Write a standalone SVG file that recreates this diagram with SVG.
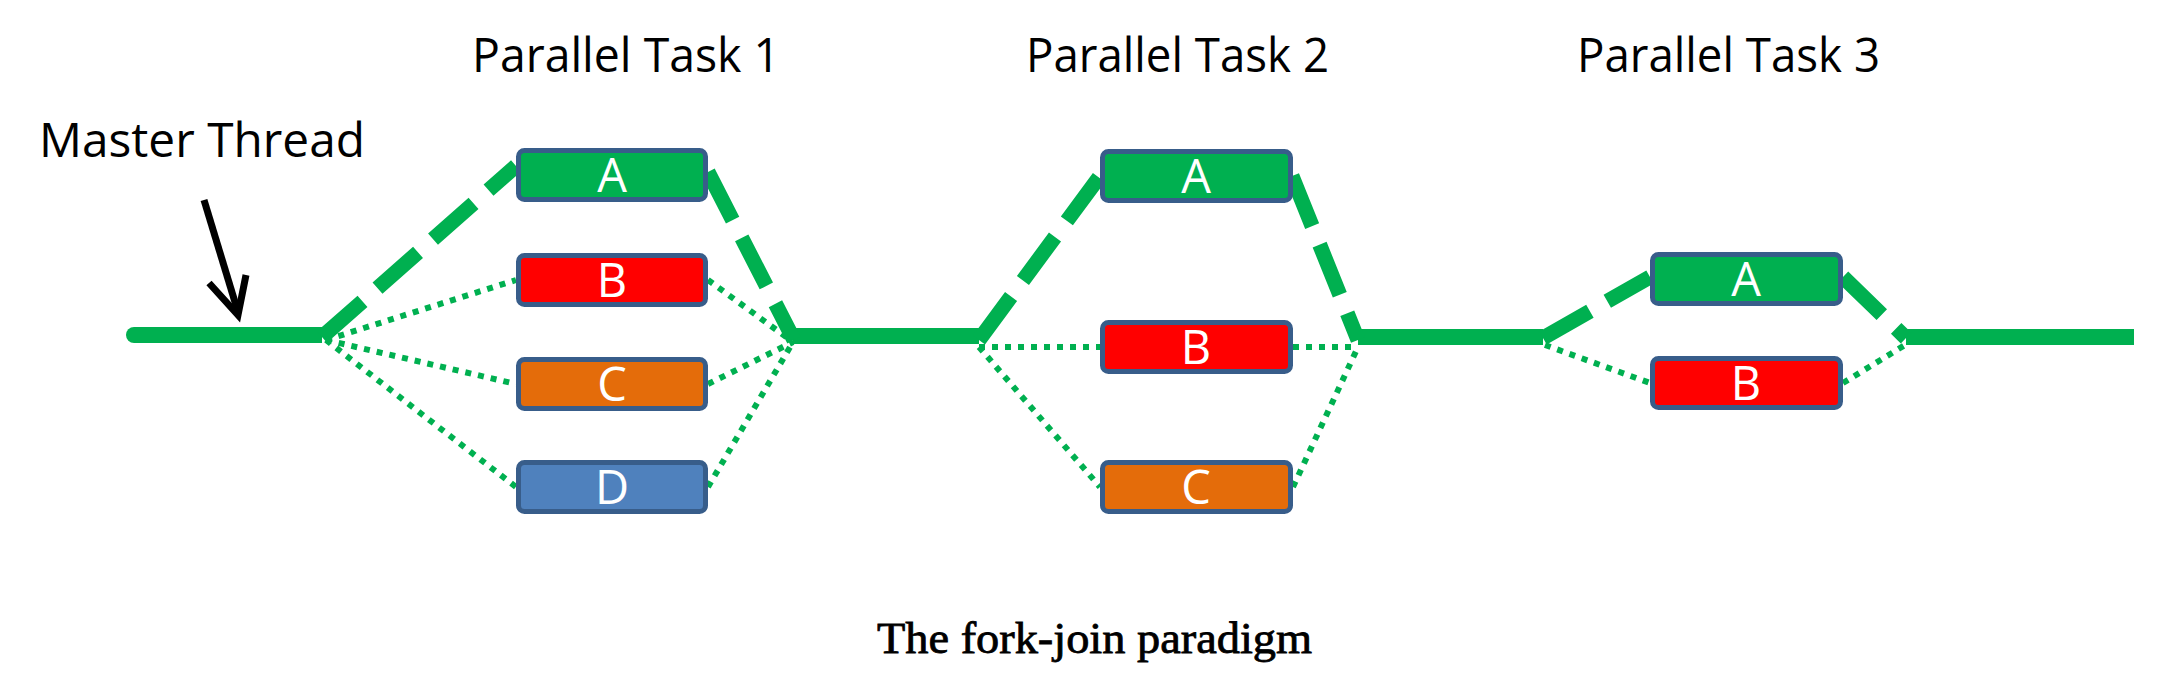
<svg xmlns="http://www.w3.org/2000/svg" width="2162" height="696" viewBox="0 0 2162 696">
<style>
.lbl{font-family:"Open Sans","Liberation Sans",sans-serif;fill:#000;font-size:47px}
.box rect{stroke:#385D8A;stroke-width:5}
.box text{font-family:"Open Sans","Liberation Sans",sans-serif;fill:#fff;font-size:47px;text-anchor:middle}
.main{stroke:#00B050;stroke-width:16;fill:none}
.dash{stroke:#00B050;stroke-width:15;fill:none;stroke-dasharray:54 20}
.dot{stroke:#00B050;stroke-width:6;fill:none;stroke-dasharray:6 7}
.g{fill:#00B050}.r{fill:#FF0000}.o{fill:#E46C0A}.b{fill:#4F81BD}
</style>
<rect width="2162" height="696" fill="#fff"/>
<g id="titles">
<text class="lbl" x="472" y="72" textLength="308" lengthAdjust="spacingAndGlyphs">Parallel Task 1</text>
<text class="lbl" x="1026" y="72" textLength="303" lengthAdjust="spacingAndGlyphs">Parallel Task 2</text>
<text class="lbl" x="1577" y="72" textLength="303" lengthAdjust="spacingAndGlyphs">Parallel Task 3</text>
</g>
<g id="master">
<text class="lbl" x="39" y="157" textLength="326" lengthAdjust="spacingAndGlyphs">Master Thread</text>
<path d="M204 200 L238 312" stroke="#000" stroke-width="7" fill="none"/>
<polyline points="209,283 238,315 246,275" stroke="#000" stroke-width="7" fill="none"/>
</g>
<g id="connectors">
<circle cx="134" cy="335" r="8" fill="#00B050"/>
<path class="main" d="M134 335 H322"/>
<path class="main" d="M793 336 H979"/>
<path class="main" d="M1358 337 H1543"/>
<path class="main" d="M1906 337 H2134"/>
<path class="dash" d="M322 337 L516 166"/>
<path class="dash" d="M708 172 L794 340"/>
<path class="dash" d="M979 340 L1100 176"/>
<path class="dash" d="M1292 176 L1358 340"/>
<path class="dash" d="M1543 338 L1650 277"/>
<path class="dash" d="M1843 277 L1906 338"/>
<path class="dot" d="M326 340 L516 280 M326 340 L516 384 M326 340 L516 487"/>
<path class="dot" d="M708 280 L793 342 M708 384 L793 342 M708 487 L793 342"/>
<path class="dot" d="M979 347 L1100 347 M979 347 L1100 487"/>
<path class="dot" d="M1293 347 L1358 347 M1293 487 L1358 347"/>
<path class="dot" d="M1545 345 L1650 383 M1843 383 L1905 345"/>
</g>
<g id="t1A" class="box"><rect class="g" x="518.5" y="150.5" width="187" height="49" rx="6"/><text x="612" y="192">A</text></g>
<g id="t1B" class="box"><rect class="r" x="518.5" y="255.5" width="187" height="49" rx="6"/><text x="612" y="297">B</text></g>
<g id="t1C" class="box"><rect class="o" x="518.5" y="359.5" width="187" height="49" rx="6"/><text x="612" y="401">C</text></g>
<g id="t1D" class="box"><rect class="b" x="518.5" y="462.5" width="187" height="49" rx="6"/><text x="612" y="504">D</text></g>
<g id="t2A" class="box"><rect class="g" x="1102.5" y="151.5" width="188" height="49" rx="6"/><text x="1196" y="193">A</text></g>
<g id="t2B" class="box"><rect class="r" x="1102.5" y="322.5" width="188" height="49" rx="6"/><text x="1196" y="364">B</text></g>
<g id="t2C" class="box"><rect class="o" x="1102.5" y="462.5" width="188" height="49" rx="6"/><text x="1196" y="504">C</text></g>
<g id="t3A" class="box"><rect class="g" x="1652.5" y="254.5" width="188" height="49" rx="6"/><text x="1746" y="296">A</text></g>
<g id="t3B" class="box"><rect class="r" x="1652.5" y="358.5" width="188" height="49" rx="6"/><text x="1746" y="400">B</text></g>
<text x="877" y="653" font-family="'Liberation Serif',serif" font-size="44" fill="#000" stroke="#000" stroke-width="0.8" textLength="435" lengthAdjust="spacingAndGlyphs">The fork-join paradigm</text>
</svg>
